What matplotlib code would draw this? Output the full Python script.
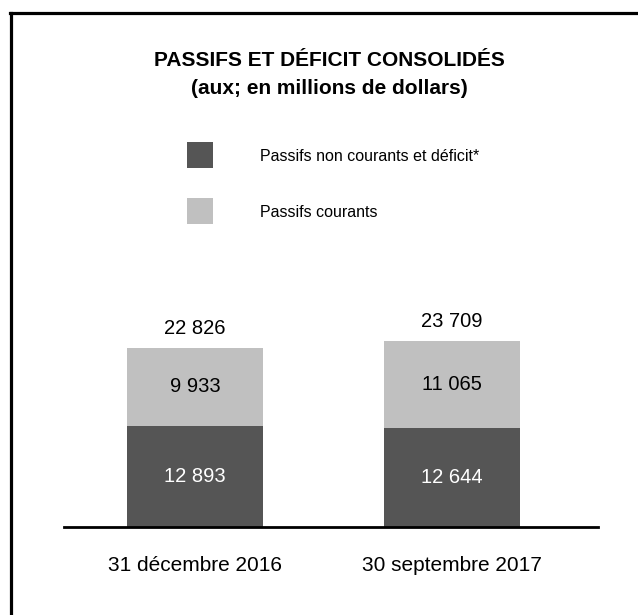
import matplotlib.pyplot as plt
from matplotlib.patches import Rectangle
from matplotlib.lines import Line2D

plt.rcParams['font.family'] = ['Liberation Sans', 'DejaVu Sans']

# --- Data ---
dates = ["31 décembre 2016", "30 septembre 2017"]
non_courants = [12893, 12644]   # Passifs non courants et déficit*
courants = [9933, 11065]        # Passifs courants
totals = [22826, 23709]

dark = "#555555"
light = "#c0c0c0"


def fmt(v):
    # French style thousands separator (space)
    return f"{v:,}".replace(",", " ")


W, H = 638, 615
fig = plt.figure(figsize=(W / 100, H / 100), dpi=100)

# frame lines (top and left only)
fig.add_artist(Line2D([10 / W, 1], [1 - 13 / H, 1 - 13 / H], color="black", lw=2.3))
fig.add_artist(Line2D([11 / W, 11 / W], [0, 1 - 13 / H], color="black", lw=2.3))

# title
fig.text(329 / W, 1 - 60 / H, "PASSIFS ET DÉFICIT CONSOLIDÉS", ha="center", va="center",
         fontsize=15, fontweight="bold")
fig.text(329 / W, 1 - 89 / H, "(aux; en millions de dollars)", ha="center", va="center",
         fontsize=15, fontweight="bold")

# legend (manual)
legend_items = [(dark, "Passifs non courants et déficit*", 155),
                (light, "Passifs courants", 211)]
for col, lab, yc in legend_items:
    fig.add_artist(Rectangle((187 / W, 1 - (yc + 13) / H), 26 / W, 26 / H,
                             facecolor=col, edgecolor="none"))
    fig.text(260 / W, 1 - (yc + 1.5) / H, lab, ha="left", va="center", fontsize=11.5)

# bar axes: baseline at y=527px, x from 64 to 598px
left_px, right_px, base_px = 64, 598, 527
ax_h_px = 260
px_per_unit = 7.84 / 1000
ax = fig.add_axes([left_px / W, 1 - base_px / H, (right_px - left_px) / W, ax_h_px / H])
ax.set_ylim(0, ax_h_px / px_per_unit)
step = 257
ax.set_xlim(-(195 - left_px) / step, (right_px - 195) / step)

x = range(len(dates))
width = 136 / step
ax.bar(x, non_courants, width=width, color=dark)
ax.bar(x, courants, width=width, bottom=non_courants, color=light)

for i in x:
    ax.text(i, non_courants[i] / 2, fmt(non_courants[i]), ha="center", va="center",
            color="white", fontsize=14.5)
    ax.text(i, non_courants[i] + courants[i] / 2, fmt(courants[i]), ha="center",
            va="center", color="black", fontsize=14.5)
    ax.annotate(fmt(totals[i]), (i, totals[i]), xytext=(0, 14), textcoords="offset points",
                ha="center", va="center", fontsize=14.5)

ax.set_xticks(list(x))
ax.set_xticklabels(dates, fontsize=15)
ax.tick_params(axis="x", length=0, pad=21)
ax.set_yticks([])
for s in ["top", "right", "left"]:
    ax.spines[s].set_visible(False)
ax.spines["bottom"].set_linewidth(2)
ax.patch.set_alpha(0)

fig.savefig("out.png", dpi=100)
